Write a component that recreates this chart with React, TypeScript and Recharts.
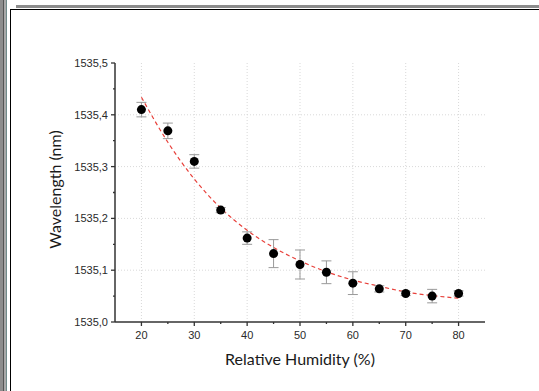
import * as React from "react";
import {
  ComposedChart,
  Scatter,
  Line,
  XAxis,
  YAxis,
  CartesianGrid,
  ErrorBar,
} from "recharts";

const humidity = [20, 25, 30, 35, 40, 45, 50, 55, 60, 65, 70, 75, 80];
const wavelength = [
  1535.41, 1535.369, 1535.31, 1535.216, 1535.162, 1535.132, 1535.111, 1535.096,
  1535.075, 1535.064, 1535.055, 1535.05, 1535.055,
];
const wavelengthErr = [
  0.014, 0.015, 0.013, 0.005, 0.012, 0.027, 0.028, 0.022, 0.022, 0.006, 0.004,
  0.013, 0.005,
];
const fitCurve = [
  1535.434, 1535.347, 1535.276, 1535.22, 1535.177, 1535.144, 1535.118,
  1535.097, 1535.081, 1535.069, 1535.058, 1535.051, 1535.046,
];

const xTicks = [20, 25, 30, 35, 40, 45, 50, 55, 60, 65, 70, 75, 80];
const xGrid = [20, 30, 40, 50, 60, 70, 80];
const yTicks = [
  1535.0, 1535.05, 1535.1, 1535.15, 1535.2, 1535.25, 1535.3, 1535.35, 1535.4,
  1535.45, 1535.5,
];
const yGrid = [1535.1, 1535.2, 1535.3, 1535.4];

const data = humidity.map((x, i) => ({
  x,
  y: wavelength[i],
  err: wavelengthErr[i],
  fit: fitCurve[i],
}));

const AXIS = "#333";
const TICK_FONT = "'Liberation Sans', Arial, sans-serif";
const TITLE_FONT = "Lato, 'Open Sans', sans-serif";

const isMajorX = (v: number) => v % 10 === 0;
const isMajorY = (v: number) => Math.round(v * 100) % 10 === 0;

function BottomTick(props: any) {
  const { x, y, payload } = props;
  const major = isMajorX(payload.value);
  return (
    <g>
      <line x1={x} x2={x} y1={y} y2={y + (major ? 4 : 2)} stroke={AXIS} strokeWidth={1.3} />
      {major && (
        <text x={x} y={y + 17} textAnchor="middle" fontSize={11} fill="#2a2a2a" fontFamily={TICK_FONT}>
          {payload.value}
        </text>
      )}
    </g>
  );
}

function TopTick(props: any) {
  const { x, y, payload } = props;
  const major = isMajorX(payload.value);
  return <line x1={x} x2={x} y1={y} y2={y - (major ? 4 : 2)} stroke={AXIS} strokeWidth={1.3} />;
}

function LeftTick(props: any) {
  const { x, y, payload } = props;
  const major = isMajorY(payload.value);
  return (
    <g>
      <line x1={x} x2={x - (major ? 4 : 2)} y1={y} y2={y} stroke={AXIS} strokeWidth={1.3} />
      {major && (
        <text x={x - 7} y={y + 4} textAnchor="end" fontSize={11} fill="#2a2a2a" fontFamily={TICK_FONT}>
          {payload.value.toFixed(1).replace(".", ",")}
        </text>
      )}
    </g>
  );
}

function RightTick(props: any) {
  const { x, y, payload } = props;
  const major = isMajorY(payload.value);
  return <line x1={x} x2={x + (major ? 4 : 2)} y1={y} y2={y} stroke={AXIS} strokeWidth={1.3} />;
}

const Dot = (props: any) => {
  const { cx, cy } = props;
  return <circle cx={cx} cy={cy} r={4.5} fill="#000" />;
};

export default function App() {
  return (
    <div style={{ position: "absolute", left: 0, top: 0, width: 539, height: 391, background: "#fff" }}>
      {/* window frame */}
      <div style={{ position: "absolute", left: 0, top: 0, width: 3, height: 391, background: "#8c8c8c" }} />
      <div style={{ position: "absolute", left: 3, top: 0, width: 1, height: 391, background: "#555" }} />
      <div style={{ position: "absolute", left: 4, top: 0, width: 2, height: 391, background: "#a8a8a8" }} />
      <div style={{ position: "absolute", left: 6, top: 0, width: 1, height: 391, background: "#6f8a8a" }} />
      <div style={{ position: "absolute", left: 10, top: 9, width: 1, height: 382, background: "#000" }} />
      <div style={{ position: "absolute", left: 16, top: 5, width: 523, height: 3, background: "#8c8c8c" }} />
      <div style={{ position: "absolute", left: 10, top: 9, width: 529, height: 1, background: "#000" }} />
      <div style={{ position: "absolute", left: 0, top: 0 }}>
        <ComposedChart
          width={539}
          height={391}
          data={data}
          margin={{ top: 63, right: 54, bottom: 0, left: 0 }}
        >
          <CartesianGrid
            stroke="#d9d9d9"
            strokeDasharray="1 2"
            verticalValues={xGrid}
            horizontalValues={yGrid}
          />
          <XAxis
            dataKey="x"
            type="number"
            domain={[15, 85]}
            ticks={xTicks}
            interval={0}
            height={69}
            tickSize={0}
            tickMargin={0}
            tickLine={false}
            tick={<BottomTick />}
            axisLine={{ stroke: AXIS, strokeWidth: 1.5 }}
            label={{
              content: ({ viewBox }: any) => (
                <text
                  x={viewBox.x + viewBox.width / 2}
                  y={viewBox.y + 43}
                  textAnchor="middle"
                  fontSize={16}
                  fill="#1a1a1a"
                  fontFamily={TITLE_FONT}
                >
                  Relative Humidity (%)
                </text>
              ),
            }}
          />
          <XAxis
            xAxisId="top"
            orientation="top"
            type="number"
            domain={[15, 85]}
            ticks={xTicks}
            interval={0}
            height={0}
            tickSize={0}
            tickMargin={0}
            tickLine={false}
            tick={<TopTick />}
            axisLine={{ stroke: AXIS, strokeWidth: 1.5 }}
          />
          <YAxis
            type="number"
            domain={[1535.0, 1535.5]}
            ticks={yTicks}
            interval={0}
            width={115}
            tickSize={0}
            tickMargin={0}
            tickLine={false}
            tick={<LeftTick />}
            axisLine={{ stroke: AXIS, strokeWidth: 1.5 }}
            label={{
              content: ({ viewBox }: any) => {
                const cx = 54;
                const cy = viewBox.y + viewBox.height / 2 - 3;
                return (
                  <text
                    x={cx}
                    y={cy}
                    transform={`rotate(-90 ${cx} ${cy})`}
                    textAnchor="middle"
                    dominantBaseline="central"
                    fontSize={16}
                    fill="#1a1a1a"
                    fontFamily={TITLE_FONT}
                  >
                    Wavelength (nm)
                  </text>
                );
              },
            }}
          />
          <YAxis
            yAxisId="right"
            orientation="right"
            type="number"
            domain={[1535.0, 1535.5]}
            ticks={yTicks}
            interval={0}
            width={0}
            tickSize={0}
            tickMargin={0}
            tickLine={false}
            tick={<RightTick />}
            axisLine={{ stroke: AXIS, strokeWidth: 1.5 }}
          />
          <Line
            dataKey="fit"
            type="monotone"
            stroke="#e8413b"
            strokeWidth={1.2}
            strokeDasharray="4 3"
            dot={false}
            activeDot={false}
            isAnimationActive={false}
          />
          <Scatter dataKey="y" shape={<Dot />} isAnimationActive={false}>
            <ErrorBar dataKey="err" direction="y" width={5} stroke="#999" strokeWidth={1} />
          </Scatter>
        </ComposedChart>
      </div>
    </div>
  );
}
